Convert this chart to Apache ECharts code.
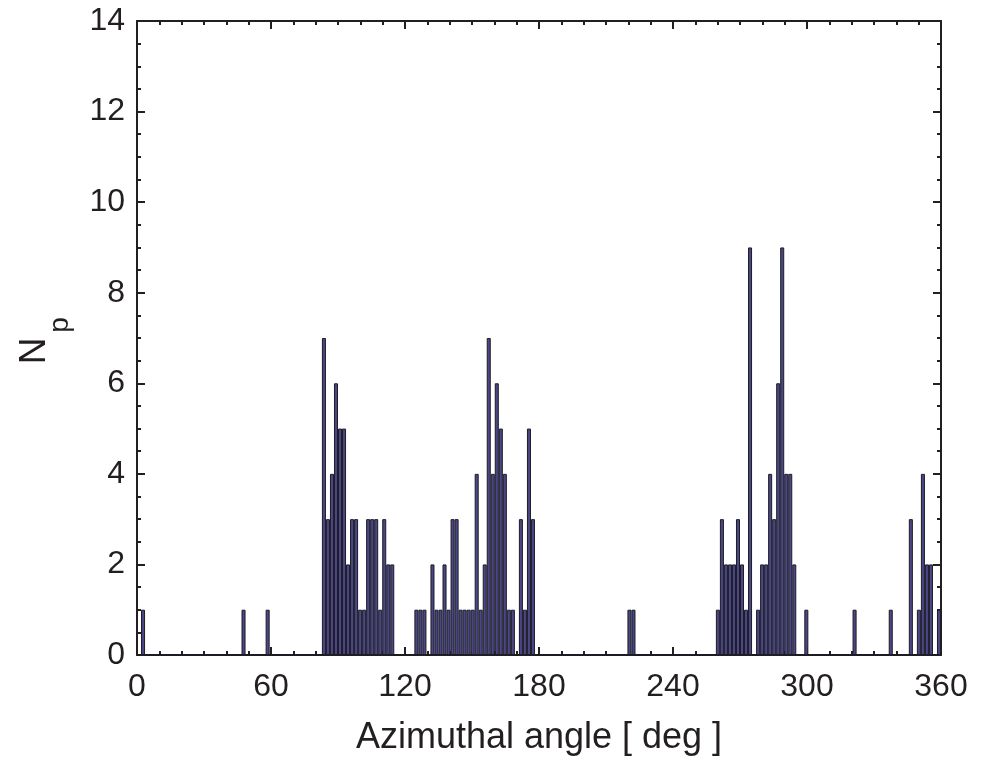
<!DOCTYPE html>
<html>
<head>
<meta charset="utf-8">
<script src="https://cdn.jsdelivr.net/npm/echarts@6/dist/echarts.min.js"></script>
<style>
html,body{margin:0;padding:0;background:#fff;}
#chart{width:994px;height:761px;}
</style>
</head>
<body>
<div id="chart"></div>
<script>
// Histogram: 200 bins of 1.8 deg over 0..360 deg
var binWidthDeg = 1.8;
var binCount = 200;
// Non-empty bins: start angle (deg) and count
var binStartDeg = [
  1.8, 46.8, 57.6,
  82.8, 84.6, 86.4, 88.2, 90.0, 91.8, 93.6, 95.4, 97.2, 99.0, 100.8, 102.6, 104.4, 106.2, 108.0, 109.8, 111.6, 113.4,
  124.2, 126.0, 127.8, 131.4, 133.2, 135.0, 136.8, 138.6, 140.4, 142.2, 144.0, 145.8, 147.6, 149.4, 151.2, 153.0, 154.8,
  156.6, 158.4, 160.2, 162.0, 163.8, 165.6, 167.4, 171.0, 172.8, 174.6, 176.4,
  219.6, 221.4,
  259.2, 261.0, 262.8, 264.6, 266.4, 268.2, 270.0, 271.8, 273.6, 277.2, 279.0, 280.8, 282.6, 284.4, 286.2, 288.0,
  289.8, 291.6, 293.4, 298.8,
  320.4, 336.6, 345.6, 349.2, 351.0, 352.8, 354.6, 358.2
];
var binCounts = [
  1, 1, 1,
  7, 3, 4, 6, 5, 5, 2, 3, 3, 1, 1, 3, 3, 3, 1, 3, 2, 2,
  1, 1, 1, 2, 1, 1, 2, 1, 3, 3, 1, 1, 1, 1, 4, 1, 2,
  7, 4, 6, 5, 4, 1, 1, 3, 1, 5, 3,
  1, 1,
  1, 3, 2, 2, 2, 3, 2, 1, 9, 1, 2, 2, 4, 3, 6, 9,
  4, 4, 2, 1,
  1, 1, 3, 1, 4, 2, 2, 1
];
var xTicks = [0, 60, 120, 180, 240, 300, 360];
var yTicks = [0, 2, 4, 6, 8, 10, 12, 14];

var categories = [];
var values = [];
for (var i = 0; i < binCount; i++) {
  categories.push((i * binWidthDeg).toFixed(1));
  values.push(0);
}
for (var k = 0; k < binStartDeg.length; k++) {
  var idx = Math.round(binStartDeg[k] / binWidthDeg);
  values[idx] = binCounts[k];
}

var ink = '#231f20';
var fontFam = '"Liberation Sans", Arial, Helvetica, sans-serif';

function frameAxis(pos, withLabels, isX) {
  var ax = {
    type: 'value', position: pos,
    min: isX ? xTicks[0] : yTicks[0],
    max: isX ? xTicks[xTicks.length - 1] : yTicks[yTicks.length - 1],
    interval: isX ? 60 : 2,
    axisLine: {show: true, onZero: false, lineStyle: {color: ink, width: 2}},
    axisTick: {show: true, inside: true, length: 8, lineStyle: {color: ink, width: 2}},
    minorTick: {show: true, splitNumber: isX ? 6 : 4, length: 4, lineStyle: {color: ink, width: 2}},
    splitLine: {show: false},
    minorSplitLine: {show: false},
    axisLabel: withLabels
      ? {fontSize: 32, color: ink, fontFamily: fontFam, margin: isX ? 16 : 12}
      : {show: false}
  };
  return ax;
}

var xBottom = frameAxis('bottom', true, true);
xBottom.name = 'Azimuthal angle [ deg ]';
xBottom.nameLocation = 'middle';
xBottom.nameGap = 65;
xBottom.nameTextStyle = {fontSize: 36, color: ink, fontFamily: fontFam};

var chart = echarts.init(document.getElementById('chart'));
chart.setOption({
  animation: false,
  backgroundColor: '#ffffff',
  grid: {left: 137, right: 53, top: 21, bottom: 106, containLabel: false},
  xAxis: [
    xBottom,
    frameAxis('top', false, true),
    {type: 'category', position: 'bottom', data: categories, show: false, boundaryGap: true,
     axisLine: {onZero: false}}
  ],
  yAxis: [
    frameAxis('left', true, false),
    frameAxis('right', false, false)
  ],
  graphic: [
    {type: 'text', x: 35, y: 351, rotation: Math.PI / 2,
     style: {text: 'N', font: '37px ' + fontFam, fill: ink, textAlign: 'center', textVerticalAlign: 'middle'}},
    {type: 'text', x: 60, y: 325, rotation: Math.PI / 2,
     style: {text: 'p', font: '28px ' + fontFam, fill: ink, textAlign: 'center', textVerticalAlign: 'middle'}}
  ],
  series: [
    {
      type: 'bar', xAxisIndex: 2, yAxisIndex: 0, data: values,
      barCategoryGap: '0%', barGap: '0%',
      itemStyle: {color: '#4a4784', borderColor: '#1c1b26', borderWidth: 1}
    }
  ]
});
</script>
</body>
</html>
